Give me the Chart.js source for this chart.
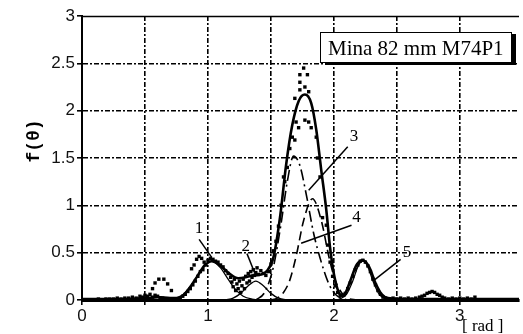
<!DOCTYPE html>
<html>
<head>
<meta charset="utf-8">
<title>Mina 82 mm M74P1</title>
<script src="https://cdn.jsdelivr.net/npm/chart.js@4.4.0/dist/chart.umd.min.js"></script>
<style>
  html, body { margin: 0; padding: 0; background: #fff; }
  #wrap { width: 523px; height: 334px; }
</style>
</head>
<body>
<div id="wrap"><canvas id="distChart" width="523" height="334"></canvas></div>
<script>
// Measured angular distribution f(theta), 82 mm mortar fragments

const measX = [0.10, 0.13, 0.16, 0.19, 0.22, 0.25, 0.28, 0.31, 0.34, 0.37, 0.40, 0.43, 0.46, 0.48, 0.50,
  0.52, 0.54, 0.56, 0.56, 0.58, 0.58, 0.60, 0.61, 0.62, 0.65, 0.64, 0.67, 0.68, 0.70, 0.71, 0.73, 0.76,
  0.78, 0.80, 0.82, 0.84, 0.86, 0.88, 0.90, 0.92, 0.87, 0.89, 0.91, 0.93, 0.95, 0.97, 0.94, 0.96, 0.98,
  1.00, 1.02, 1.04, 1.06, 1.08, 1.10, 1.12, 1.14, 1.16, 1.18, 1.19, 1.20, 1.21, 1.22, 1.23, 1.24, 1.25,
  1.26, 1.27, 1.28, 1.29, 1.30, 1.31, 1.32, 1.33, 1.34, 1.35, 1.36, 1.37, 1.38, 1.39, 1.40, 1.42, 1.44,
  1.46, 1.48, 1.50, 1.52, 1.54, 1.56, 1.58, 1.60, 1.61, 1.63, 1.65, 1.67, 1.69, 1.70, 1.69, 1.72, 1.73,
  1.73, 1.73, 1.76, 1.77, 1.77, 1.79, 1.80, 1.80, 1.82, 1.86, 1.87, 1.89, 1.91, 1.94, 1.95, 1.97, 1.99,
  2.01, 2.03, 2.05, 2.07, 2.09, 2.11, 2.13, 2.15, 2.17, 2.19, 2.21, 2.23, 2.25, 2.27, 2.29, 2.31, 2.33,
  2.35, 2.37, 2.39, 2.41, 2.44, 2.47, 2.50, 2.53, 2.56, 2.59, 2.62, 2.65, 2.68, 2.70, 2.72, 2.74, 2.76,
  2.78, 2.80, 2.82, 2.84, 2.86, 2.88, 2.91, 2.94, 2.97, 3.00, 3.03, 3.06, 3.09, 3.12];
const measY = [0.00, 0.01, 0.00, 0.01, 0.01, 0.01, 0.02, 0.01, 0.02, 0.02, 0.03, 0.02, 0.04, 0.03, 0.05,
  0.04, 0.06, 0.12, 0.03, 0.18, 0.05, 0.04, 0.22, 0.02, 0.22, 0.02, 0.01, 0.17, 0.01, 0.10, 0.00, 0.01,
  0.02, 0.04, 0.06, 0.09, 0.12, 0.16, 0.20, 0.25, 0.33, 0.37, 0.43, 0.46, 0.44, 0.40, 0.30, 0.32, 0.37,
  0.42, 0.44, 0.43, 0.41, 0.40, 0.37, 0.35, 0.31, 0.28, 0.24, 0.19, 0.14, 0.22, 0.10, 0.17, 0.12, 0.20,
  0.08, 0.15, 0.22, 0.12, 0.25, 0.18, 0.28, 0.20, 0.30, 0.24, 0.32, 0.26, 0.29, 0.34, 0.27, 0.31, 0.28,
  0.26, 0.30, 0.38, 0.52, 0.62, 0.78, 1.00, 1.30, 1.25, 1.40, 1.60, 1.72, 1.69, 1.88, 2.13, 1.82, 2.22,
  2.30, 2.38, 2.45, 1.90, 2.25, 2.38, 2.20, 1.88, 1.82, 1.72, 1.50, 1.30, 0.87, 0.79, 0.58, 0.40, 0.25,
  0.15, 0.08, 0.05, 0.05, 0.07, 0.12, 0.18, 0.25, 0.32, 0.37, 0.41, 0.42, 0.40, 0.36, 0.30, 0.22, 0.16,
  0.10, 0.06, 0.03, 0.02, 0.01, 0.02, 0.01, 0.02, 0.01, 0.02, 0.01, 0.02, 0.03, 0.04, 0.05, 0.07, 0.08,
  0.09, 0.08, 0.06, 0.05, 0.03, 0.02, 0.01, 0.02, 0.01, 0.02, 0.01, 0.02, 0.01, 0.03];

// fitted total
const fitX = [0, 0.3, 0.5, 0.6, 0.7, 0.77, 0.85, 0.92, 0.97, 1.03, 1.1, 1.17, 1.24, 1.3, 1.36, 1.42, 1.47,
  1.52, 1.575, 1.62, 1.67, 1.72, 1.77, 1.82, 1.86, 1.9, 1.94, 1.97, 2.01, 2.06, 2.09, 2.13, 2.18, 2.23,
  2.28, 2.33, 2.38, 2.43, 2.6, 3.47];
const fitY = [0.01, 0.01, 0.02, 0.03, 0.02, 0.02, 0.12, 0.26, 0.36, 0.41, 0.36, 0.28, 0.23, 0.24, 0.26,
  0.27, 0.31, 0.45, 0.9, 1.42, 1.85, 2.1, 2.17, 2.08, 1.8, 1.37, 0.95, 0.55, 0.21, 0.05, 0.07, 0.2, 0.37,
  0.42, 0.35, 0.18, 0.06, 0.02, 0.01, 0.01];

// fitted components 1..5
const c1X = [0.65, 0.72, 0.8, 0.86, 0.9, 0.95, 1.03, 1.1, 1.16, 1.22, 1.28, 1.35, 1.45];
const c1Y = [0, 0.01, 0.055, 0.14, 0.22, 0.32, 0.41, 0.34, 0.22, 0.11, 0.04, 0.01, 0];
const c2X = [1.14, 1.2, 1.26, 1.32, 1.38, 1.44, 1.5, 1.56, 1.64];
const c2Y = [0, 0.02, 0.07, 0.15, 0.2, 0.15, 0.07, 0.02, 0];
const c3X = [1.38, 1.45, 1.52, 1.58, 1.63, 1.68, 1.73, 1.78, 1.84, 1.9, 1.96, 2.02, 2.1];
const c3Y = [0, 0.08, 0.35, 0.8, 1.25, 1.52, 1.42, 1.12, 0.7, 0.4, 0.17, 0.05, 0];
const c4X = [1.5, 1.55, 1.6, 1.65, 1.7, 1.76, 1.83, 1.9, 1.96, 2.01, 2.06, 2.11, 2.18];
const c4Y = [0, 0.02, 0.08, 0.21, 0.46, 0.84, 1.07, 0.84, 0.46, 0.21, 0.08, 0.02, 0];
const c5X = [2.03, 2.1, 2.15, 2.19, 2.23, 2.27, 2.31, 2.36, 2.43];
const c5Y = [0, 0.06, 0.2, 0.35, 0.42, 0.35, 0.2, 0.06, 0];

// curve labels: text anchor and leader line, in axis units
const notes = [
  { text: '1', at: [0.93, 0.76], from: [0.93, 0.64], to: [1.03, 0.45] },
  { text: '2', at: [1.30, 0.56], from: [1.31, 0.49], to: [1.37, 0.29] },
  { text: '3', at: [2.16, 1.73], from: [2.11, 1.62], to: [1.80, 1.16] },
  { text: '4', at: [2.18, 0.87], from: [2.14, 0.79], to: [1.74, 0.60] },
  { text: '5', at: [2.58, 0.50], from: [2.53, 0.43], to: [2.31, 0.20] }
];

const toPts = (xs, ys) => xs.map((x, i) => ({ x, y: ys[i] }));

const SANS = "'Liberation Sans', Arial, sans-serif";
const SERIF = "'Liberation Serif', 'Times New Roman', serif";

function curve(xs, ys, width, dash) {
  return {
    data: toPts(xs, ys),
    showLine: true,
    borderColor: '#000',
    borderWidth: width,
    borderDash: dash,
    pointRadius: 0,
    cubicInterpolationMode: 'monotone',
    fill: false
  };
}

const decorations = {
  id: 'decorations',
  beforeDatasetsDraw(chart) {
    const { ctx, chartArea } = chart;
    ctx.save();
    ctx.strokeStyle = '#000';
    ctx.lineWidth = 1.5;
    ctx.beginPath();
    ctx.moveTo(chartArea.left, chartArea.top + 0.5);
    ctx.lineTo(chartArea.right, chartArea.top + 0.5);
    ctx.stroke();
    ctx.restore();
  },
  afterDatasetsDraw(chart) {
    const { ctx, scales: { x, y } } = chart;
    ctx.save();
    ctx.strokeStyle = '#000';
    ctx.fillStyle = '#000';
    ctx.lineWidth = 1.5;
    ctx.font = '17px ' + SERIF;
    ctx.textAlign = 'center';
    ctx.textBaseline = 'middle';
    notes.forEach(n => {
      ctx.beginPath();
      ctx.moveTo(x.getPixelForValue(n.from[0]), y.getPixelForValue(n.from[1]));
      ctx.lineTo(x.getPixelForValue(n.to[0]), y.getPixelForValue(n.to[1]));
      ctx.stroke();
      ctx.fillText(n.text, x.getPixelForValue(n.at[0]), y.getPixelForValue(n.at[1]));
    });

    // title box with drop shadow
    const bx = 320, by = 32, bw = 191, bh = 30;
    ctx.fillRect(bx + 5, by + 2, bw, bh + 1);
    ctx.fillStyle = '#fff';
    ctx.fillRect(bx, by, bw, bh);
    ctx.lineWidth = 1;
    ctx.strokeRect(bx + 0.5, by + 0.5, bw, bh);
    ctx.fillStyle = '#000';
    ctx.font = '21px ' + SERIF;
    ctx.textAlign = 'left';
    ctx.textBaseline = 'alphabetic';
    ctx.fillText('Mina 82 mm M74P1', bx + 8, by + 23);

    // axis unit
    ctx.font = '17px ' + SERIF;
    ctx.fillText('[ rad ]', 462, 331);

    // y axis title
    ctx.translate(34, 141);
    ctx.rotate(-Math.PI / 2);
    ctx.font = "bold 18px 'Liberation Mono', 'Courier New', monospace";
    ctx.textAlign = 'center';
    ctx.textBaseline = 'middle';
    ctx.fillText('f(\u03b8)', 0, 0);
    ctx.restore();
  }
};

const gridDash = [5, 2, 2, 2];

new Chart(document.getElementById('distChart'), {
  type: 'scatter',
  data: {
    datasets: [
      {
        data: toPts(measX, measY),
        pointStyle: 'rect',
        pointRadius: 2.4,
        pointBackgroundColor: '#000',
        pointBorderWidth: 0,
        showLine: false
      },
      curve(c1X, c1Y, 1.3, []),
      curve(c2X, c2Y, 1.3, []),
      curve(c3X, c3Y, 1.6, [11, 4, 2, 4]),
      curve(c4X, c4Y, 1.6, [9, 5]),
      curve(c5X, c5Y, 1.3, []),
      curve(fitX, fitY, 2.6, [])
    ]
  },
  options: {
    responsive: false,
    animation: false,
    layout: { padding: { top: 16, left: 0, right: 0, bottom: 0 } },
    plugins: {
      legend: { display: false },
      tooltip: { enabled: false }
    },
    scales: {
      x: {
        type: 'linear',
        min: 0,
        max: 3.47,
        afterFit(s) { s.height = 34; },
        ticks: {
          stepSize: 0.5,
          includeBounds: false,
          autoSkip: false,
          maxRotation: 0,
          padding: 1,
          color: '#111',
          font: { family: SANS, size: 17 },
          callback: v => (Number.isInteger(v) ? String(v) : '')
        },
        grid: {
          color: c => (c.tick && c.tick.value === 0 ? 'rgba(0,0,0,0)' : '#000'),
          lineWidth: 1.6,
          tickColor: '#000',
          tickLength: 5
        },
        border: { display: true, color: '#000', width: 3, dash: gridDash }
      },
      y: {
        min: 0,
        max: 3,
        afterFit(s) { s.width = 82; },
        ticks: {
          stepSize: 0.5,
          padding: 2,
          color: '#111',
          font: { family: SANS, size: 17 },
          callback: v => String(v)
        },
        grid: {
          color: c => (c.tick && (c.tick.value === 0 || c.tick.value === 3) ? 'rgba(0,0,0,0)' : '#000'),
          lineWidth: 1.6,
          tickColor: '#000',
          tickLength: 5
        },
        border: { display: true, color: '#000', width: 2, dash: gridDash }
      }
    }
  },
  plugins: [decorations]
});
</script>
</body>
</html>
